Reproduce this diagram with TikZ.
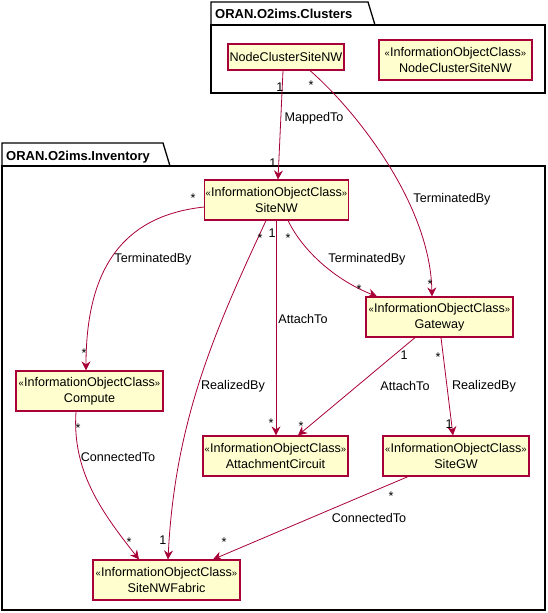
\documentclass[tikz,border=0pt]{standalone}
\usepackage{fontspec}
\setmainfont{Liberation Sans}
\usetikzlibrary{positioning,arrows.meta}
\definecolor{UMLRed}{HTML}{A80036}
\definecolor{UMLFill}{HTML}{FEFECE}
\newcommand{\iocname}[1]{{\fontsize{9.5}{9.5}\selectfont«}InformationObjectClass{\fontsize{9.5}{9.5}\selectfont»}\\#1}

\begin{document}
\begin{tikzpicture}[
    x=1pt, y=-1pt,
    umlclass/.style={
      draw=UMLRed,
      fill=UMLFill,
      line width=1.2pt,
      minimum width=147pt,
      minimum height=40pt,
      inner sep=1pt,
      align=center,
      font=\fontsize{12.6}{16}\selectfont
    },
    umlplain/.style={
      umlclass,
      minimum width=116pt,
      minimum height=26pt
    },
    umlassoc/.style={
      -{Stealth[length=9pt,width=9pt,inset=3pt]},
      line width=0.8pt,
      UMLRed
    },
    mult/.style={font=\fontsize{12.6}{12.6}\selectfont, inner sep=0pt},
    rolename/.style={font=\fontsize{12.6}{12.6}\selectfont, inner sep=0pt},
    pkgframe/.style={draw=black, line width=1.3pt},
    pkgtitle/.style={font=\fontsize{13}{13}\selectfont\bfseries, anchor=base west, inner sep=0pt}
  ]
  \useasboundingbox (0,0) rectangle (547,613);

  % 包框
  \draw[pkgframe] (211,25) -- (211,2) -- (368,2) -- (375,25);
  \draw[pkgframe] (211,25) rectangle (545,93);
  \node[pkgtitle] (clustersTitle) at (215,19) {ORAN.O2ims.Clusters};
  \draw[pkgframe] (2,166) -- (2,143) -- (163,143) -- (170,166);
  \draw[pkgframe] (2,166) rectangle (545,610);
  \node[pkgtitle] (inventoryTitle) at (6,160) {ORAN.O2ims.Inventory};

  % 类
  \node[umlplain] (ncsimple) at (286,57) {NodeClusterSiteNW};
  \node[umlclass, minimum width=153pt] (ncclass) at (455.5,60) {\iocname{NodeClusterSiteNW}};
  \node[umlclass, minimum width=143pt] (sitenw) at (276.5,200) {\iocname{SiteNW}};
  \node[umlclass] (gateway) at (439.5,317) {\iocname{Gateway}};
  \node[umlclass] (compute) at (89.5,391) {\iocname{Compute}};
  \node[umlclass, minimum width=145pt] (attach) at (275.5,456) {\iocname{AttachmentCircuit}};
  \node[umlclass, minimum width=146pt] (sitegw) at (456,456) {\iocname{SiteGW}};
  \node[umlclass] (fabric) at (166.5,580) {\iocname{SiteNWFabric}};

  % 关联
  \draw[umlassoc] ([xshift=-3pt]ncsimple.south) -- ([xshift=1.5pt]sitenw.north);
  \draw[umlassoc] ([xshift=24pt]ncsimple.south) .. controls (350,105) and (430,200) .. ([xshift=-7.5pt]gateway.north);
  \draw[umlassoc] ([yshift=-7pt]sitenw.west) .. controls (130,215) and (86,260) .. ([xshift=-3.5pt]compute.north);
  \draw[umlassoc] ([xshift=11.5pt]sitenw.south) .. controls (305,255) and (340,282) .. ([xshift=-62.5pt]gateway.north);
  \draw[umlassoc] ([xshift=-0.5pt]sitenw.south) -- ([xshift=0.5pt]attach.north);
  \draw[umlassoc] ([xshift=-10.5pt]sitenw.south) .. controls (215,330) and (175,420) .. ([xshift=1.5pt]fabric.north);
  \draw[umlassoc] ([xshift=-24.5pt]gateway.south) -- ([xshift=22.5pt]attach.north);
  \draw[umlassoc] ([xshift=1.5pt]gateway.south) -- ([xshift=-3pt]sitegw.north);
  \draw[umlassoc] ([xshift=-13.5pt]compute.south) .. controls (72,470) and (100,510) .. ([xshift=-27.5pt]fabric.north);
  \draw[umlassoc] ([xshift=-48pt]sitegw.south) -- ([xshift=46.5pt]fabric.north);

  % 角色名
  \node[rolename] (mappedLbl) at (314,118) {MappedTo};
  \node[rolename] (termGwLbl) at (452,199) {TerminatedBy};
  \node[rolename] (termCompLbl) at (153,259) {TerminatedBy};
  \node[rolename] (termSiteLbl) at (367,259) {TerminatedBy};
  \node[rolename] (attachLbl) at (303,319) {AttachTo};
  \node[rolename] (realFabLbl) at (233,386) {RealizedBy};
  \node[rolename] (attachGwLbl) at (405,386) {AttachTo};
  \node[rolename] (realGwLbl) at (484,386) {RealizedBy};
  \node[rolename] (connCompLbl) at (118,457) {ConnectedTo};
  \node[rolename] (connGwLbl) at (369,518) {ConnectedTo};

  % 多重性
  \node[mult] (m1a) at (280,87) {1};
  \node[mult] (m1b) at (273,163) {1};
  \node[mult] (m2a) at (311,85) {*};
  \node[mult] (m2b) at (430,284) {*};
  \node[mult] (m3a) at (193,198) {*};
  \node[mult] (m3b) at (84,353) {*};
  \node[mult] (m4a) at (288,238) {*};
  \node[mult] (m4b) at (359,289) {*};
  \node[mult] (m5a) at (272,233) {1};
  \node[mult] (m5b) at (271,423) {*};
  \node[mult] (m6a) at (260,238) {*};
  \node[mult] (m6b) at (163,540) {1};
  \node[mult] (m7a) at (404,355) {1};
  \node[mult] (m7b) at (301,426) {*};
  \node[mult] (m8a) at (438,357) {*};
  \node[mult] (m8b) at (449,424) {1};
  \node[mult] (m9a) at (78,428) {*};
  \node[mult] (m9b) at (129,542) {*};
  \node[mult] (m10a) at (391,496) {*};
  \node[mult] (m10b) at (224,542) {*};
\end{tikzpicture}
\end{document}
